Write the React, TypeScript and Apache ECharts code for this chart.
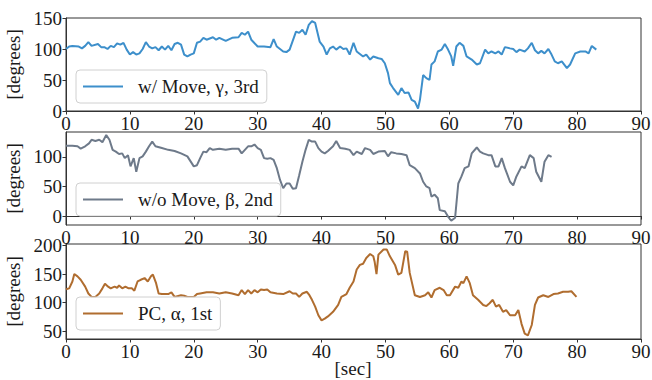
import React, { useEffect, useRef } from "react";
import * as echarts from "echarts";

const seriesNames = ["w/ Move, γ, 3rd", "w/o Move, β, 2nd", "PC, α, 1st"];
const seriesColors = ["#3d8fcb", "#6e7a8a", "#b06d2f"];
const xTicks = [0, 10, 20, 30, 40, 50, 60, 70, 80, 90];
const yTicks1 = [0, 50, 100, 150];
const yTicks2 = [0, 50, 100];
const yTicks3 = [50, 100, 150, 200];
const xAxisTitle = "[sec]";
const yAxisTitle = "[degrees]";

const gammaData = [
  [0, 100], [0.5, 104], [1, 105], [2, 104], [2.5, 101], [3, 105], [3.5, 111], [4, 105], [5, 108], [5.5, 103],
  [6, 103], [6.5, 100], [7, 105], [7.5, 103], [8, 109], [8.5, 107], [9, 110], [9.5, 99], [10, 91], [10.5, 95],
  [11, 91], [11.5, 93], [12, 100], [12.5, 111], [13, 104], [13.5, 101], [14, 103], [14.5, 98], [15, 104], [15.5, 99],
  [16, 105], [16.5, 98], [17, 108], [17.5, 110], [18, 107], [18.5, 91], [19, 88], [19.5, 91], [20, 93], [20.5, 110],
  [21, 112], [21.5, 118], [22, 115], [23, 119], [23.5, 115], [24, 118], [25, 113], [26, 118], [27, 119], [27.5, 126],
  [28, 123], [28.5, 128], [29, 115], [30, 104], [31, 104], [32, 103], [32.5, 116], [33, 104], [34, 96], [34.5, 95],
  [35, 99], [36, 128], [36.5, 126], [37, 131], [37.5, 123], [38, 139], [38.5, 145], [39, 142], [39.7, 112], [40.3, 104],
  [40.8, 91], [41.3, 101], [41.8, 104], [42.3, 99], [42.9, 104], [43.4, 100], [43.9, 101], [44.4, 91], [45, 110], [45.5, 96],
  [46, 92], [46.5, 88], [47, 91], [47.6, 83], [48.1, 88], [48.9, 85], [49.4, 84], [49.9, 77], [50.4, 61], [50.7, 45],
  [51.2, 37], [52, 26], [52.5, 37], [53, 29], [53.6, 30], [54.1, 18], [54.6, 15], [55.1, 4], [55.4, 18], [55.9, 58],
  [56.4, 53], [56.9, 50], [57.2, 75], [57.7, 80], [58.2, 96], [58.8, 99], [59.3, 108], [59.8, 99], [60.3, 88], [60.6, 73],
  [61.1, 104], [61.6, 110], [62.2, 105], [62.7, 88], [63.5, 83], [64.3, 75], [64.8, 77], [65.6, 99], [66.1, 93], [66.6, 96],
  [67.2, 93], [67.7, 96], [68.2, 91], [68.7, 103], [69.5, 101], [70, 100], [70.5, 95], [71, 99], [71.8, 96], [72.3, 101],
  [72.9, 110], [73.4, 98], [73.9, 93], [74.4, 97], [74.9, 93], [75.5, 100], [76, 91], [76.5, 80], [77, 77], [77.6, 80],
  [78.4, 69], [78.9, 75], [79.7, 93], [80.5, 96], [81.3, 96], [81.8, 93], [82.3, 105], [83, 99],
];

const betaData = [
  [0, 119], [1, 119], [1.8, 118], [2.3, 114], [3, 118], [3.6, 123], [4, 129], [4.6, 127], [5.2, 129], [5.7, 125],
  [6.3, 137], [6.8, 129], [7.3, 112], [7.8, 109], [8.3, 105], [8.8, 106], [9.2, 98], [9.7, 103], [10.1, 84], [10.6, 98],
  [11, 75], [11.5, 98], [12, 101], [12.5, 109], [13, 118], [13.5, 126], [14, 118], [15, 115], [16, 112], [17, 110],
  [18, 106], [19, 101], [20, 84], [20.5, 86], [21, 98], [21.5, 109], [22, 108], [22.5, 115], [23, 112], [24, 114],
  [25, 112], [26, 114], [27, 114], [27.5, 106], [28, 112], [28.5, 118], [29, 118], [29.5, 121], [30, 115], [30.5, 112],
  [31, 98], [31.5, 97], [32, 98], [32.5, 95], [33, 81], [33.5, 61], [34, 47], [34.5, 55], [35, 55], [35.5, 46],
  [36, 47], [36.5, 69], [37, 92], [37.5, 112], [38, 129], [38.5, 126], [39, 126], [39.5, 115], [40, 109], [40.5, 106],
  [41, 110], [41.5, 115], [41.8, 118], [42.3, 127], [42.9, 115], [43.7, 114], [44.4, 112], [45, 103], [45.5, 109], [46.3, 105],
  [46.8, 115], [47.6, 112], [48.1, 105], [48.9, 109], [49.9, 110], [50.4, 101], [50.9, 108], [51.7, 106], [52.5, 105], [53.3, 103],
  [53.8, 86], [54.6, 81], [55.4, 72], [55.9, 58], [56.4, 50], [56.9, 47], [57.2, 33], [57.7, 36], [58.2, 30], [58.5, 10],
  [59.3, 8], [59.8, -1], [60.3, -8], [60.9, -3], [61.4, 55], [61.9, 67], [62.4, 81], [63, 84], [63.5, 106], [64.3, 116],
  [64.8, 109], [65.3, 106], [66.1, 103], [66.6, 103], [67.2, 84], [67.7, 84], [68.2, 98], [68.7, 81], [69.5, 58], [70, 52],
  [70.5, 67], [71.3, 84], [71.8, 81], [72.6, 103], [73.2, 98], [73.6, 75], [74.4, 58], [74.9, 92], [75.5, 103], [76, 100],
];

const alphaData = [
  [0, 123.5], [0.5, 125], [1, 137], [1.3, 150], [1.8, 146], [2.3, 140], [3, 128], [3.5, 116], [4, 110], [4.6, 110],
  [5.2, 116], [5.7, 125], [6.1, 133], [6.6, 128], [7, 125], [7.6, 128], [8, 126], [8.3, 130], [8.8, 125], [9.3, 128],
  [9.8, 125], [10.3, 125], [10.7, 121], [11.2, 137], [11.7, 140], [12.3, 143], [12.8, 137], [13.3, 146], [13.6, 149], [14.1, 134],
  [14.5, 116], [15, 115], [16, 115], [16.5, 118], [17, 110], [18, 113], [18.5, 112], [19, 110], [19.5, 110], [20, 110],
  [20.5, 115], [21, 116], [22, 118], [23, 118], [24, 116], [25, 118], [26, 116], [27, 113], [27.5, 122], [28, 115],
  [28.5, 122], [29, 116], [29.5, 122], [30, 118], [30.5, 123], [31, 122], [31.5, 123], [32, 118], [33, 116], [34, 115],
  [35, 120], [35.5, 116], [36, 116], [36.5, 110], [37, 116], [37.7, 119], [38.1, 113], [38.5, 105], [39, 93], [39.5, 78],
  [40, 69], [40.5, 72], [41, 76], [41.8, 84], [42.6, 96], [43.1, 110], [43.9, 115], [44.4, 126], [45, 137], [45.5, 158],
  [46, 166], [46.5, 168], [47, 178], [47.6, 185], [48.1, 181], [48.3, 172], [48.6, 150], [48.9, 184], [49.7, 193], [50.2, 193],
  [50.7, 181], [51.5, 166], [52, 149], [52.5, 152], [53.1, 190], [53.4, 189], [53.8, 152], [54.6, 113], [55.4, 110], [56.2, 113],
  [56.7, 118], [57.2, 109], [57.7, 122], [58.5, 126], [59.1, 122], [59.6, 113], [60.1, 113], [60.9, 128], [61.4, 126], [61.9, 137],
  [62.2, 134], [62.7, 146], [63.2, 134], [63.7, 113], [64.5, 105], [65.3, 96], [65.8, 94], [66.3, 99], [66.8, 105], [67.3, 93],
  [67.8, 96], [68.4, 84], [68.9, 87], [69.5, 78], [70.3, 78], [70.8, 87], [71.3, 63], [71.8, 46], [72.3, 43], [72.9, 61],
  [73.4, 96], [73.9, 109], [74.7, 113], [75.5, 110], [76.3, 115], [77, 116], [77.8, 119], [78.6, 119], [79.1, 120], [79.9, 110],
];

const FONT = "'Liberation Serif', serif";
const TEXT = "#1a1a1a";

export default function App() {
  const ref = useRef<HTMLDivElement>(null);
  useEffect(() => {
    if (!ref.current) return;
    const chart = echarts.init(ref.current, null, { renderer: "svg" });
    const grids = [
      { left: 66, right: 11, top: 18, height: 93 },
      { left: 66, right: 11, top: 132, height: 93 },
      { left: 66, right: 11, top: 244, height: 95 },
    ];
    const yRanges = [
      { min: 0, max: 150, ticks: yTicks1 },
      { min: -15.2, max: 142.2, ticks: yTicks2 },
      { min: 36.5, max: 202.5, ticks: yTicks3 },
    ];
    const datas = [gammaData, betaData, alphaData];
    const legendTops = [70, 183, 297];
    const labelStyle = { fontFamily: FONT, fontSize: 19, color: TEXT, fontWeight: "normal", fontStyle: "normal" };
    const option: any = {
      animation: false,
      textStyle: { fontFamily: FONT },
      grid: grids.map((g) => ({
        ...g,
        containLabel: false,
        outerBoundsMode: "none",
        show: true,
        borderColor: "#333",
        borderWidth: 1,
        backgroundColor: "transparent",
      })),
      graphic: [
        {
          type: "text",
          x: 353,
          y: 359,
          silent: true,
          style: {
            text: xAxisTitle,
            fontFamily: FONT,
            fontSize: 19,
            fill: TEXT,
            align: "center",
            verticalAlign: "top",
          },
        },
      ],
      xAxis: grids.map((_, i) => ({
        type: "value",
        gridIndex: i,
        min: 0,
        max: 90,
        interval: 10,
        splitLine: { show: false },
        axisLine: { show: true, lineStyle: { color: "#333", width: 1 } },
        axisTick: { show: true, length: 3.5, inside: false, lineStyle: { color: "#333" }, customValues: xTicks },
        axisLabel: { customValues: xTicks, margin: 3, ...labelStyle },
      })),
      yAxis: grids.map((_, i) => ({
        type: "value",
        gridIndex: i,
        min: yRanges[i].min,
        max: yRanges[i].max,
        splitLine: { show: false },
        axisLine: { show: true, lineStyle: { color: "#333", width: 1 } },
        axisTick: { show: true, length: 3.5, lineStyle: { color: "#333" }, customValues: yRanges[i].ticks },
        axisLabel: { customValues: yRanges[i].ticks, margin: 4, ...labelStyle },
        name: yAxisTitle,
        nameLocation: "middle",
        nameRotate: 90,
        nameGap: 33,
        nameTextStyle: { ...labelStyle },
      })),
      legend: seriesNames.map((n, i) => ({
        data: [n],
        left: 76,
        top: legendTops[i],
        orient: "horizontal",
        icon: "rect",
        itemWidth: 40,
        itemHeight: 2,
        padding: [7, 8, 7, 7],
        backgroundColor: "rgba(255,255,255,0.8)",
        borderColor: "#d0d0d0",
        borderWidth: 1,
        borderRadius: 4,
        textStyle: { ...labelStyle, padding: [0, 0, 0, 10], lineHeight: 18 },
        selectedMode: false,
      })),
      series: datas.map((d, i) => ({
        type: "line",
        name: seriesNames[i],
        xAxisIndex: i,
        yAxisIndex: i,
        data: d,
        showSymbol: false,
        symbol: "none",
        lineStyle: { color: seriesColors[i], width: 2 },
        itemStyle: { color: seriesColors[i] },
        z: 1,
      })),
    };
    chart.setOption(option);
    return () => chart.dispose();
  }, []);
  return <div ref={ref} style={{ position: "absolute", left: 0, top: 0, width: 652, height: 380 }} />;
}
